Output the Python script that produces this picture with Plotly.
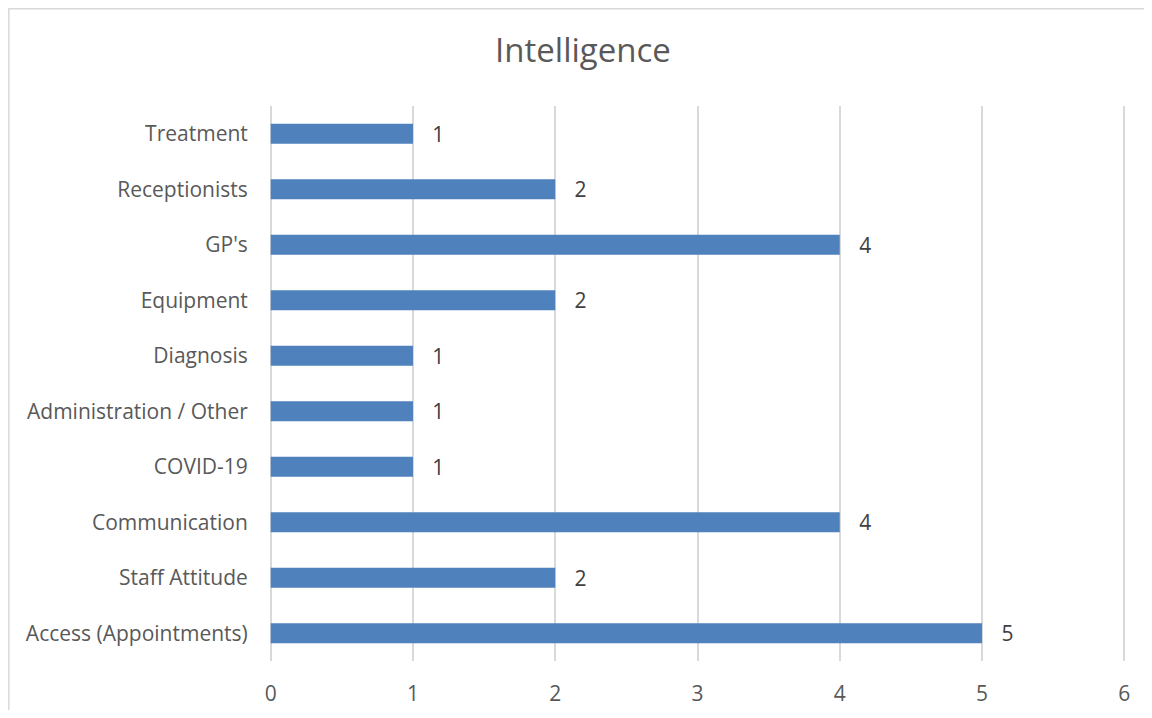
import plotly.graph_objects as go

categories = ['Access (Appointments)', 'Staff Attitude', 'Communication', 'COVID-19',
              'Administration / Other', 'Diagnosis', 'Equipment', "GP's",
              'Receptionists', 'Treatment']
counts = [5, 2, 4, 1, 1, 1, 2, 4, 2, 1]
x_ticks = [0, 1, 2, 3, 4, 5, 6]

# page body has an 8px margin, so the figure is sized to fit inside it
W, H = 1136, 702
L, R, T, B = 261, 18, 98, 49
pw, ph = W - L - R, H - T - B

fig = go.Figure(go.Bar(
    y=categories,
    x=counts,
    orientation='h',
    width=0.36,
    marker=dict(color='#4F81BD', line=dict(width=0)),
    text=counts,
    texttemplate='   %{x}',
    textposition='outside',
    constraintext='none',
    textfont=dict(size=21, color='#404040', family='Open Sans'),
    cliponaxis=False
))

# chart border (Excel style, cut off at right/bottom)
fig.add_shape(type='rect', xref='paper', yref='paper',
              x0=(0.8 - L) / pw, x1=1.2, y0=-0.3, y1=(H - B - 0.8) / ph,
              line=dict(color='#D9D9D9', width=1.5), layer='below')

fig.update_layout(
    width=W, height=H,
    margin=dict(l=L, r=R, t=T, b=B, autoexpand=False),
    paper_bgcolor='white',
    plot_bgcolor='white',
    font=dict(family='Open Sans', color='#595959'),
    title=dict(text='Intelligence', x=(575 - L) / pw, xref='paper', xanchor='center',
               y=1 - 42 / H, yanchor='middle',
               font=dict(size=33, color='#595959', family='Open Sans')),
    xaxis=dict(range=[-0.012, 6.012], tickvals=x_ticks, showgrid=True, gridcolor='#D9D9D9',
               gridwidth=1.5, zeroline=True, zerolinecolor='#D9D9D9', zerolinewidth=1.5,
               showline=False, automargin=False,
               ticks='outside', ticklen=14, tickcolor='rgba(0,0,0,0)',
               tickfont=dict(size=21, color='#595959')),
    yaxis=dict(showgrid=False, zeroline=False, showline=False, automargin=False,
               ticks='outside', ticklen=16, tickcolor='rgba(0,0,0,0)',
               tickfont=dict(size=21, color='#595959')),
    showlegend=False
)

fig.write_html('out.html')
